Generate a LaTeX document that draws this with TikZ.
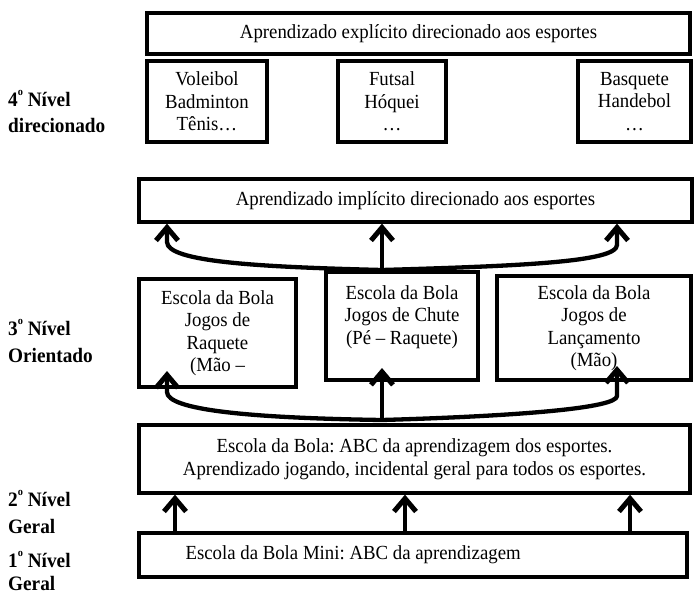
\documentclass[tikz,border=0pt]{standalone}
\usepackage{fontspec}
\setmainfont[FakeStretch=0.94]{Liberation Serif}
\usetikzlibrary{arrows.meta}
\frenchspacing
\newcommand\boxfont{\fontsize{20}{22.5}\selectfont}
\newcommand\lvlfont{\fontsize{20.5}{22}\selectfont\bfseries}
\newcommand\ordo{\raisebox{11pt}{\fontsize{11}{11}\selectfont o}}
\begin{document}
\begin{tikzpicture}[x=1pt,y=-1pt,
  box/.style={draw, line width=3.3pt, inner sep=0pt, align=center, font=\boxfont},
  conn/.style={line width=4.3pt, line join=round,
    -{Straight Barb[length=13pt,width=22pt,line width=5pt]}},
  lvl/.style={anchor=west, font=\lvlfont, inner sep=0pt}]
\useasboundingbox (0,0) rectangle (694,594);

% level 4: explicit learning aimed at sports
\node[box, minimum width=543, minimum height=41] (expl) at (418.5,33.5)
  {Aprendizado explícito direcionado aos esportes};
\node[box, minimum width=120, minimum height=81] (vol) at (207,101.5)
  {Voleibol\\Badminton\\Tênis…};
\node[box, minimum width=108, minimum height=81] (fut) at (392,101.5)
  {Futsal\\Hóquei\\…};
\node[box, minimum width=113, minimum height=81] (bas) at (634.5,101.5)
  {Basquete\\Handebol\\…};

% level 3: oriented
\node[box, minimum width=553, minimum height=43] (impl) at (415.5,200.5)
  {Aprendizado implícito direcionado aos esportes};
\node[box, minimum width=157, minimum height=108] (raq) at (217.5,333)
  {Escola da Bola\\Jogos de\\Raquete\\(Mão –};
\node[box, minimum width=152, minimum height=108] (chu) at (402,326)
  {Escola da Bola\\Jogos de Chute\\(Pé – Raquete)\\~};
\node[box, minimum width=194, minimum height=104] (lan) at (594,328)
  {Escola da Bola\\Jogos de\\Lançamento\\(Mão)};

% level 2 and level 1: general
\node[box, minimum width=551, minimum height=68] (ger) at (414.5,459)
  {Escola da Bola: ABC da aprendizagem dos esportes.\\
   Aprendizado jogando, incidental geral para todos os esportes.};
\node[box, minimum width=548, minimum height=44] (mini) at (413,555) {};
\node[anchor=west, font=\boxfont, inner sep=0pt] (minitxt)
  at ([xshift=48pt]mini.west) {Escola da Bola Mini: ABC da aprendizagem};

% level names
\node[lvl] (n4a) at (8,99) {4\ordo{} Nível};
\node[lvl] (n4b) at (8,125) {direcionado};
\node[lvl] (n3a) at (8,328) {3\ordo{} Nível};
\node[lvl] (n3b) at (8,355) {Orientado};
\node[lvl] (n2a) at (8,499) {2\ordo{} Nível};
\node[lvl] (n2b) at (8,526) {Geral};
\node[lvl] (n1a) at (8,560) {1\ordo{} Nível};
\node[lvl] (n1b) at (8,583) {Geral};

% branching arrows from level 3 to the implicit learning box
\coordinate (uj) at (382,270);
\coordinate (ul) at (167,242);
\coordinate (ur) at (617,245);
\draw[conn] (uj |- chu.north) -- (uj |- impl.south);
\draw[conn] (uj) .. controls (260,267) and (167,262) .. (ul) -- (ul |- impl.south);
\draw[conn] (uj) .. controls (520,266) and (617,262) .. (ur) -- (ur |- impl.south);

% branching arrows from level 2 into the level 3 boxes
\coordinate (lj) at (382,420);
\coordinate (ll) at (167,392);
\coordinate (lr) at (617,396);
\coordinate (tl) at (167,371);
\coordinate (tm) at (382,368);
\coordinate (tr) at (617,366);
\draw[conn] (lj) -- (tm);
\draw[conn] (lj) .. controls (250,418) and (167,410) .. (ll) -- (tl);
\draw[conn] (lj) .. controls (520,416) and (617,408) .. (lr) -- (tr);

% arrows from level 1 to level 2
\foreach \x in {175,405,630}
  \draw[conn] (mini.north -| \x,0) -- (ger.south -| \x,0);
\end{tikzpicture}
\end{document}
